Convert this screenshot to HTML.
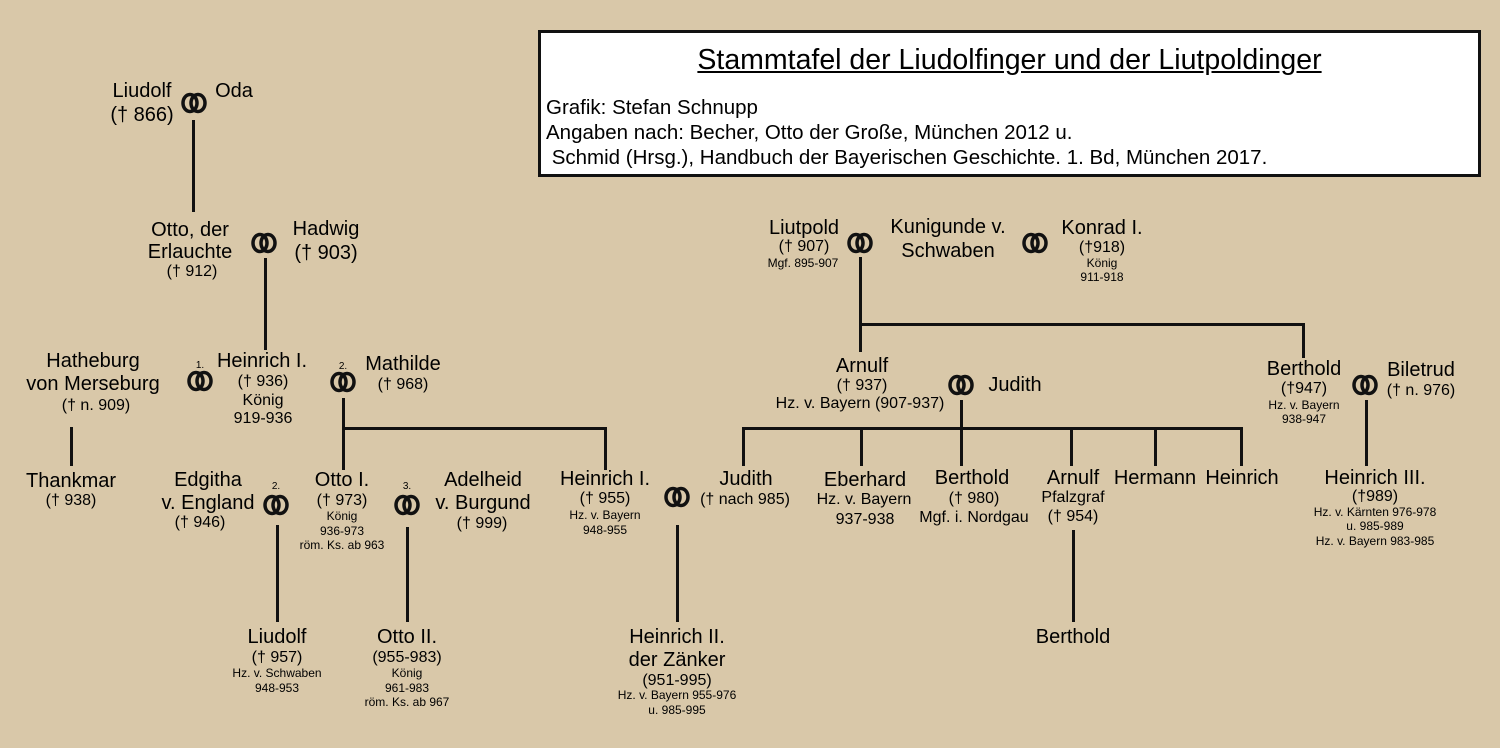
<!DOCTYPE html>
<html><head><meta charset="utf-8"><style>
body{margin:0}
#c{position:relative;width:1500px;height:748px;background:#d9c8a9;overflow:hidden;font-family:"Liberation Sans",sans-serif;color:#000}
.t{position:absolute;transform:translate(-50%,-50%);white-space:nowrap;font-size:20px;line-height:1}
.m{font-size:16px}
.s{font-size:12px}
.x{font-size:10px}
.b{font-weight:bold}
.l{position:absolute;background:#111}
svg.r{position:absolute;width:30px;height:22px;transform:translate(-50%,-50%)}
#box{position:absolute;left:538px;top:30px;width:937px;height:141px;border:3px solid #111;background:#fff}
#box .h{position:absolute;left:0;width:100%;top:11px;text-align:center;font-size:28.5px;text-decoration:underline}
#box .p{position:absolute;left:5px;font-size:20.5px}
</style></head><body><div id="c">
<div id="box"><div class="h">Stammtafel der Liudolfinger und der Liutpoldinger</div>
<div class="p" style="top:63px">Grafik: Stefan Schnupp</div>
<div class="p" style="top:88px">Angaben nach: Becher, Otto der Große, München 2012 u.</div>
<div class="p" style="top:113px">&nbsp;Schmid (Hrsg.), Handbuch der Bayerischen Geschichte. 1. Bd, München 2017.</div></div>

<svg width="0" height="0" style="position:absolute"><defs><g id="rg"><ellipse cx="11" cy="11" rx="7" ry="8.5" fill="none" stroke="#111" stroke-width="3.5"/><ellipse cx="19" cy="11" rx="7" ry="8.5" fill="none" stroke="#111" stroke-width="3.5"/></g></defs></svg>

<!-- lines -->
<div class="l" style="left:192px;top:120px;width:3px;height:92px"></div>
<div class="l" style="left:264px;top:258px;width:3px;height:92px"></div>
<div class="l" style="left:342px;top:398px;width:3px;height:72px"></div>
<div class="l" style="left:342px;top:427px;width:265px;height:3px"></div>
<div class="l" style="left:604px;top:427px;width:3px;height:43px"></div>
<div class="l" style="left:70px;top:427px;width:3px;height:39px"></div>
<div class="l" style="left:276px;top:525px;width:3px;height:97px"></div>
<div class="l" style="left:406px;top:527px;width:3px;height:95px"></div>
<div class="l" style="left:676px;top:525px;width:3px;height:97px"></div>
<div class="l" style="left:859px;top:257px;width:3px;height:95px"></div>
<div class="l" style="left:859px;top:323px;width:446px;height:3px"></div>
<div class="l" style="left:1302px;top:323px;width:3px;height:35px"></div>
<div class="l" style="left:960px;top:400px;width:3px;height:66px"></div>
<div class="l" style="left:742px;top:427px;width:501px;height:3px"></div>
<div class="l" style="left:742px;top:427px;width:3px;height:39px"></div>
<div class="l" style="left:860px;top:427px;width:3px;height:39px"></div>
<div class="l" style="left:1070px;top:427px;width:3px;height:39px"></div>
<div class="l" style="left:1154px;top:427px;width:3px;height:39px"></div>
<div class="l" style="left:1240px;top:427px;width:3px;height:39px"></div>
<div class="l" style="left:1072px;top:530px;width:3px;height:92px"></div>
<div class="l" style="left:1365px;top:400px;width:3px;height:66px"></div>

<!-- rings -->
<svg class="r" style="left:194px;top:103px"><use href="#rg"/></svg>
<svg class="r" style="left:264px;top:243px"><use href="#rg"/></svg>
<svg class="r" style="left:200px;top:381px"><use href="#rg"/></svg>
<svg class="r" style="left:343px;top:382px"><use href="#rg"/></svg>
<svg class="r" style="left:276px;top:505px"><use href="#rg"/></svg>
<svg class="r" style="left:407px;top:505px"><use href="#rg"/></svg>
<svg class="r" style="left:677px;top:497px"><use href="#rg"/></svg>
<svg class="r" style="left:860px;top:243px"><use href="#rg"/></svg>
<svg class="r" style="left:1035px;top:243px"><use href="#rg"/></svg>
<svg class="r" style="left:961px;top:385px"><use href="#rg"/></svg>
<svg class="r" style="left:1365px;top:385px"><use href="#rg"/></svg>

<!-- texts -->
<div class="t" style="left:142px;top:91px">Liudolf</div>
<div class="t" style="left:142px;top:115px">(† 866)</div>
<div class="t" style="left:234px;top:91px">Oda</div>
<div class="t" style="left:190px;top:230px">Otto, der</div>
<div class="t" style="left:190px;top:252px">Erlauchte</div>
<div class="t m" style="left:192px;top:272px">(† 912)</div>
<div class="t" style="left:326px;top:229px">Hadwig</div>
<div class="t" style="left:326px;top:253px">(† 903)</div>

<div class="t" style="left:93px;top:361px">Hatheburg</div>
<div class="t" style="left:93px;top:384px">von Merseburg</div>
<div class="t m" style="left:96px;top:406px">(† n. 909)</div>
<div class="t x" style="left:200px;top:366px">1.</div>
<div class="t" style="left:262px;top:361px">Heinrich I.</div>
<div class="t m" style="left:263px;top:382px">(† 936)</div>
<div class="t m" style="left:263px;top:401px">König</div>
<div class="t m" style="left:263px;top:419px">919-936</div>
<div class="t x" style="left:343px;top:367px">2.</div>
<div class="t" style="left:403px;top:364px">Mathilde</div>
<div class="t m" style="left:403px;top:385px">(† 968)</div>

<div class="t" style="left:71px;top:481px">Thankmar</div>
<div class="t m" style="left:71px;top:501px">(† 938)</div>
<div class="t" style="left:208px;top:480px">Edgitha</div>
<div class="t" style="left:208px;top:503px">v. England</div>
<div class="t m" style="left:200px;top:523px">(† 946)</div>
<div class="t x" style="left:276px;top:487px">2.</div>
<div class="t" style="left:342px;top:480px">Otto I.</div>
<div class="t m" style="left:342px;top:501px">(† 973)</div>
<div class="t s" style="left:342px;top:516px">König</div>
<div class="t s" style="left:342px;top:531px">936-973</div>
<div class="t s" style="left:342px;top:545px">röm. Ks. ab 963</div>
<div class="t x" style="left:407px;top:487px">3.</div>
<div class="t" style="left:483px;top:480px">Adelheid</div>
<div class="t" style="left:483px;top:503px">v. Burgund</div>
<div class="t m" style="left:482px;top:524px">(† 999)</div>
<div class="t" style="left:605px;top:479px">Heinrich I.</div>
<div class="t m" style="left:605px;top:499px">(† 955)</div>
<div class="t s" style="left:605px;top:515px">Hz. v. Bayern</div>
<div class="t s" style="left:605px;top:530px">948-955</div>
<div class="t" style="left:746px;top:479px">Judith</div>
<div class="t m" style="left:745px;top:500px">(† nach 985)</div>

<div class="t" style="left:277px;top:637px">Liudolf</div>
<div class="t m" style="left:277px;top:658px">(† 957)</div>
<div class="t s" style="left:277px;top:673px">Hz. v. Schwaben</div>
<div class="t s" style="left:277px;top:688px">948-953</div>
<div class="t" style="left:407px;top:637px">Otto II.</div>
<div class="t m" style="left:407px;top:658px">(955-983)</div>
<div class="t s" style="left:407px;top:673px">König</div>
<div class="t s" style="left:407px;top:688px">961-983</div>
<div class="t s" style="left:407px;top:702px">röm. Ks. ab 967</div>
<div class="t" style="left:677px;top:637px">Heinrich II.</div>
<div class="t" style="left:677px;top:660px">der Zänker</div>
<div class="t m" style="left:677px;top:681px">(951-995)</div>
<div class="t s" style="left:677px;top:695px">Hz. v. Bayern 955-976</div>
<div class="t s" style="left:677px;top:710px">u. 985-995</div>

<div class="t" style="left:804px;top:228px">Liutpold</div>
<div class="t m" style="left:804px;top:247px">(† 907)</div>
<div class="t s" style="left:803px;top:263px">Mgf. 895-907</div>
<div class="t" style="left:948px;top:227px">Kunigunde v.</div>
<div class="t" style="left:948px;top:251px">Schwaben</div>
<div class="t" style="left:1102px;top:228px">Konrad I.</div>
<div class="t m" style="left:1102px;top:248px">(†918)</div>
<div class="t s" style="left:1102px;top:263px">König</div>
<div class="t s" style="left:1102px;top:277px">911-918</div>

<div class="t" style="left:862px;top:366px">Arnulf</div>
<div class="t m" style="left:862px;top:386px">(† 937)</div>
<div class="t m" style="left:860px;top:404px">Hz. v. Bayern (907-937)</div>
<div class="t" style="left:1015px;top:385px">Judith</div>
<div class="t" style="left:1304px;top:369px">Berthold</div>
<div class="t m" style="left:1304px;top:389px">(†947)</div>
<div class="t s" style="left:1304px;top:405px">Hz. v. Bayern</div>
<div class="t s" style="left:1304px;top:419px">938-947</div>
<div class="t" style="left:1421px;top:370px">Biletrud</div>
<div class="t m" style="left:1421px;top:391px">(† n. 976)</div>

<div class="t" style="left:865px;top:480px">Eberhard</div>
<div class="t m" style="left:864px;top:500px">Hz. v. Bayern</div>
<div class="t m" style="left:865px;top:520px">937-938</div>
<div class="t" style="left:972px;top:478px">Berthold</div>
<div class="t m" style="left:974px;top:499px">(† 980)</div>
<div class="t m" style="left:974px;top:518px">Mgf. i. Nordgau</div>
<div class="t" style="left:1073px;top:478px">Arnulf</div>
<div class="t m" style="left:1073px;top:498px">Pfalzgraf</div>
<div class="t m" style="left:1073px;top:517px">(† 954)</div>
<div class="t" style="left:1155px;top:478px">Hermann</div>
<div class="t" style="left:1242px;top:478px">Heinrich</div>
<div class="t" style="left:1073px;top:637px">Berthold</div>
<div class="t" style="left:1375px;top:478px">Heinrich III.</div>
<div class="t m" style="left:1375px;top:497px">(†989)</div>
<div class="t s" style="left:1375px;top:512px">Hz. v. Kärnten 976-978</div>
<div class="t s" style="left:1375px;top:526px">u. 985-989</div>
<div class="t s" style="left:1375px;top:541px">Hz. v. Bayern 983-985</div>
</div></body></html>
